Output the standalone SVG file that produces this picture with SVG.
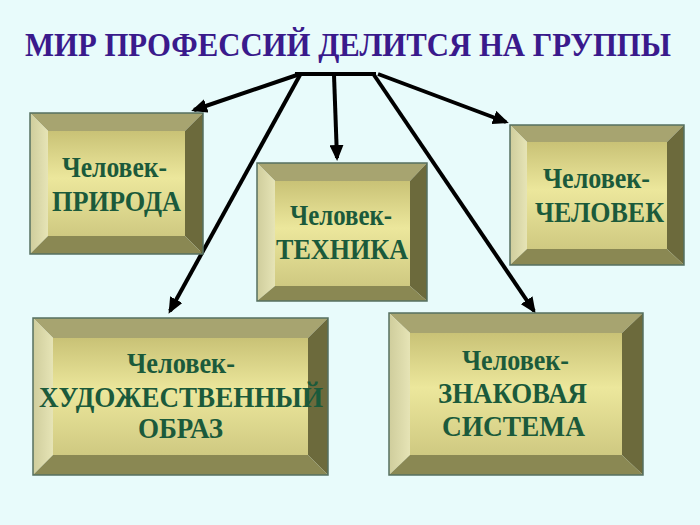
<svg xmlns="http://www.w3.org/2000/svg" width="700" height="525" viewBox="0 0 700 525">
<defs>
<linearGradient id="inner" x1="0" y1="0" x2="0" y2="1">
<stop offset="0" stop-color="#c9c276"/>
<stop offset="0.45" stop-color="#ece79c"/>
<stop offset="1" stop-color="#cfc981"/>
</linearGradient>
<linearGradient id="leftg" x1="0" y1="0" x2="1" y2="0">
<stop offset="0" stop-color="#cfcd9c"/>
<stop offset="1" stop-color="#e6e4b6"/>
</linearGradient>
<marker id="arr" markerUnits="userSpaceOnUse" markerWidth="18" markerHeight="14" refX="13" refY="7" orient="auto">
<path d="M0,0 L16,7 L0,14 Z" fill="#000"/>
</marker>
<style>
.top{fill:#a7a470}
.left{fill:url(#leftg)}
.right{fill:#6c6a3c}
.bot{fill:#8a8853}
.in{fill:url(#inner)}
.frame{fill:none;stroke:#557060;stroke-width:1.5}
.t{font-family:"Liberation Serif","Times New Roman",serif;font-weight:bold;font-size:30px;fill:#1b5a3b}
.title{font-family:"Liberation Serif","Times New Roman",serif;font-weight:bold;font-size:31px;fill:#3a1a8c}
.c{fill:none;stroke:#000;stroke-width:4}
</style>
</defs>
<rect width="700" height="525" fill="#e8fbfb"/>
<g transform="scale(1,1.1)">
<text class="title" x="25" y="50.9" textLength="646" lengthAdjust="spacingAndGlyphs">МИР ПРОФЕССИЙ ДЕЛИТСЯ НА ГРУППЫ</text>
</g>

<g id="connectors">
<line class="c" x1="295" y1="74" x2="376" y2="74"/>
<line class="c" x1="297" y1="75" x2="194" y2="110" marker-end="url(#arr)"/>
<line class="c" x1="300" y1="75" x2="170" y2="311" marker-end="url(#arr)"/>
<line class="c" x1="334" y1="75" x2="337" y2="158" marker-end="url(#arr)"/>
<line class="c" x1="374" y1="75" x2="534" y2="311" marker-end="url(#arr)"/>
<line class="c" x1="378" y1="74" x2="506" y2="122" marker-end="url(#arr)"/>
</g>

<g id="node-priroda">
<polygon class="top" points="30,113 203,113 185,131 48,131"/>
<polygon class="left" points="30,113 48,131 48,236 30,254"/>
<polygon class="right" points="203,113 203,254 185,236 185,131"/>
<polygon class="bot" points="30,254 203,254 185,236 48,236"/>
<rect class="in" x="48" y="131" width="137" height="105"/>
<rect class="frame" x="30" y="113" width="173" height="141"/>
<text class="t" x="62" y="177" textLength="105" lengthAdjust="spacingAndGlyphs">Человек-</text>
<text class="t" x="52" y="211" textLength="129" lengthAdjust="spacingAndGlyphs">ПРИРОДА</text>
</g>

<g id="node-chelovek">
<polygon class="top" points="510,125 684,125 667,142 527,142"/>
<polygon class="left" points="510,125 527,142 527,249 510,265"/>
<polygon class="right" points="684,125 684,265 667,249 667,142"/>
<polygon class="bot" points="510,265 684,265 667,249 527,249"/>
<rect class="in" x="527" y="142" width="140" height="107"/>
<rect class="frame" x="510" y="125" width="174" height="140"/>
<text class="t" x="543" y="188" textLength="107" lengthAdjust="spacingAndGlyphs">Человек-</text>
<text class="t" x="535" y="222" textLength="129" lengthAdjust="spacingAndGlyphs">ЧЕЛОВЕК</text>
</g>

<g id="node-tehnika">
<polygon class="top" points="257,163 427,163 410,181 275,181"/>
<polygon class="left" points="257,163 275,181 275,286 257,301"/>
<polygon class="right" points="427,163 427,301 410,286 410,181"/>
<polygon class="bot" points="257,301 427,301 410,286 275,286"/>
<rect class="in" x="275" y="181" width="135" height="105"/>
<rect class="frame" x="257" y="163" width="170" height="138"/>
<text class="t" x="290" y="225" textLength="102" lengthAdjust="spacingAndGlyphs">Человек-</text>
<text class="t" x="276" y="259" textLength="132" lengthAdjust="spacingAndGlyphs">ТЕХНИКА</text>
</g>

<g id="node-hudozh">
<polygon class="top" points="33,318 328,318 308,338 53,338"/>
<polygon class="left" points="33,318 53,338 53,455 33,475"/>
<polygon class="right" points="328,318 328,475 308,455 308,338"/>
<polygon class="bot" points="33,475 328,475 308,455 53,455"/>
<rect class="in" x="53" y="338" width="255" height="117"/>
<rect class="frame" x="33" y="318" width="295" height="157"/>
<text class="t" x="127" y="373" textLength="108" lengthAdjust="spacingAndGlyphs">Человек-</text>
<text class="t" x="39" y="407" textLength="284" lengthAdjust="spacingAndGlyphs">ХУДОЖЕСТВЕННЫЙ</text>
<text class="t" x="138" y="438" textLength="85" lengthAdjust="spacingAndGlyphs">ОБРАЗ</text>
</g>

<g id="node-znak">
<polygon class="top" points="389,313 643,313 622,333 410,333"/>
<polygon class="left" points="389,313 410,333 410,455 389,475"/>
<polygon class="right" points="643,313 643,475 622,455 622,333"/>
<polygon class="bot" points="389,475 643,475 622,455 410,455"/>
<rect class="in" x="410" y="333" width="212" height="122"/>
<rect class="frame" x="389" y="313" width="254" height="162"/>
<text class="t" x="462" y="370" textLength="107" lengthAdjust="spacingAndGlyphs">Человек-</text>
<text class="t" x="438" y="403" textLength="149" lengthAdjust="spacingAndGlyphs">ЗНАКОВАЯ</text>
<text class="t" x="442" y="436" textLength="143" lengthAdjust="spacingAndGlyphs">СИСТЕМА</text>
</g>
</svg>
